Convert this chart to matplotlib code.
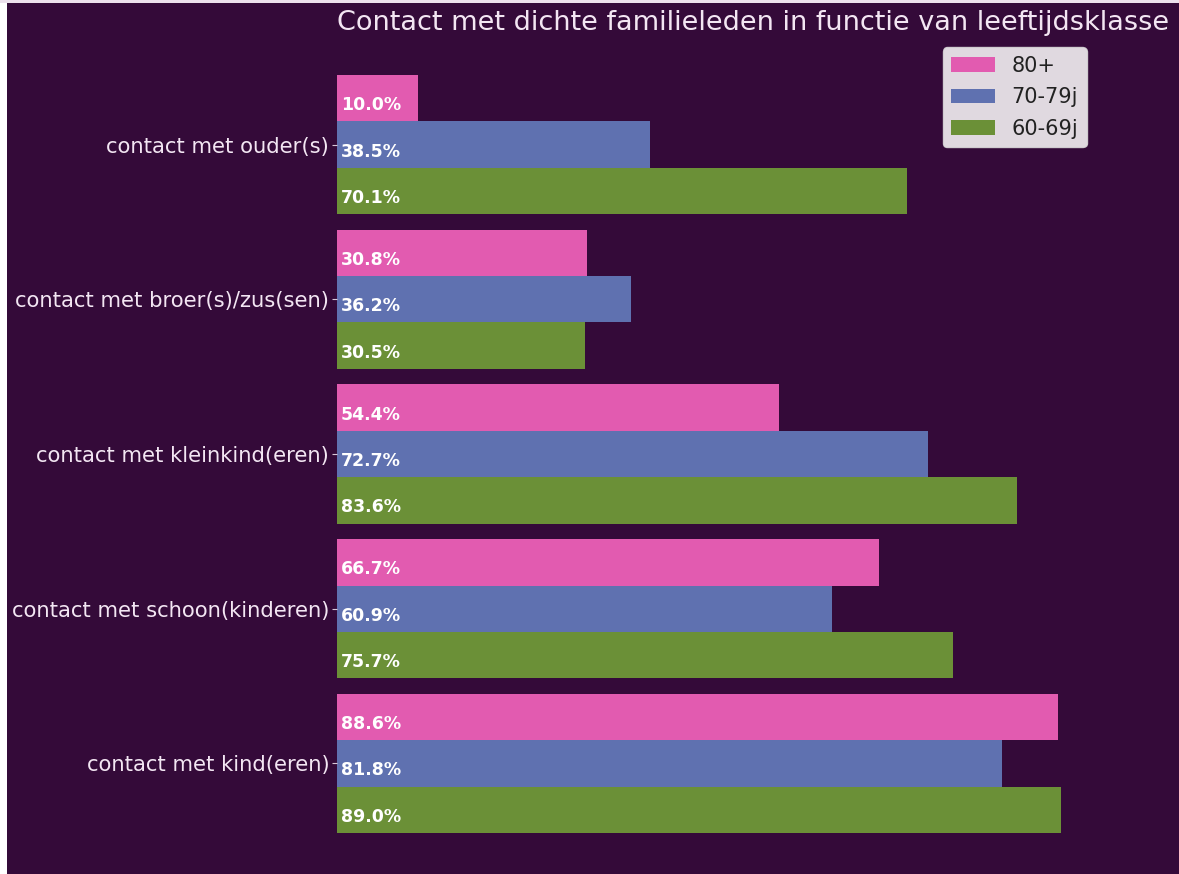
import matplotlib
matplotlib.use("Agg")
import matplotlib.pyplot as plt
from matplotlib.patches import Rectangle
import numpy as np

categories = ["contact met kind(eren)", "contact met schoon(kinderen)",
              "contact met kleinkind(eren)", "contact met broer(s)/zus(sen)",
              "contact met ouder(s)"]
series_names = ["80+", "70-79j", "60-69j"]
vals_80 = [88.6, 66.7, 54.4, 30.8, 10.0]
vals_70 = [81.8, 60.9, 72.7, 36.2, 38.5]
vals_60 = [89.0, 75.7, 83.6, 30.5, 70.1]
colors = ["#e25bb0", "#5f71b0", "#6b9037"]
title = "Contact met dichte familieleden in functie van leeftijdsklasse"

bg = "#340a39"
W, H = 1179, 874
fig = plt.figure(figsize=(W / 100, H / 100), dpi=100, facecolor=bg)
ax = fig.add_axes([337 / W, 1 - 871 / H, (1097 - 337) / W, (871 - 37) / H])
ax.set_facecolor(bg)

y = np.arange(len(categories))
h = 0.3
series = [vals_80, vals_70, vals_60]
offsets = [h, 0, -h]
for name, vals, off, c in zip(series_names, series, offsets, colors):
    bars = ax.barh(y + off, vals, height=h, color=c, label=name)
    for b, v in zip(bars, vals):
        ax.text(0.5, b.get_y() + b.get_height() / 2 - 0.045, f"{v:.1f}%",
                color="white", fontweight="bold", fontsize=12.5,
                ha="left", va="center")

ax.set_yticks(y)
ax.set_yticklabels(categories, fontsize=15.2, color="#f3e6f3")
ax.tick_params(axis="y", colors="#d8c8d8", labelcolor="#f3e6f3", pad=2)
ax.set_xticks([])
for s in ax.spines.values():
    s.set_visible(False)

ax.set_title(title, loc="left", fontsize=19.5, color="#f3e6f3", pad=5)
leg = ax.legend(loc="upper right", fontsize=15, facecolor="white",
                framealpha=0.85, edgecolor="#dddddd", labelspacing=0.55,
                handlelength=2.1)
for t in leg.get_texts():
    t.set_color("#222222")

# thin white frame on the left and top edges of the picture
fig.patches.append(Rectangle((0, 0), 7 / W, 1, transform=fig.transFigure,
                             facecolor="white", edgecolor="none", zorder=10))
fig.patches.append(Rectangle((0, 1 - 3 / H), 1, 3 / H, transform=fig.transFigure,
                             facecolor="#ece0ec", edgecolor="none", zorder=10))

fig.savefig("out.png", dpi=100, facecolor=bg)
